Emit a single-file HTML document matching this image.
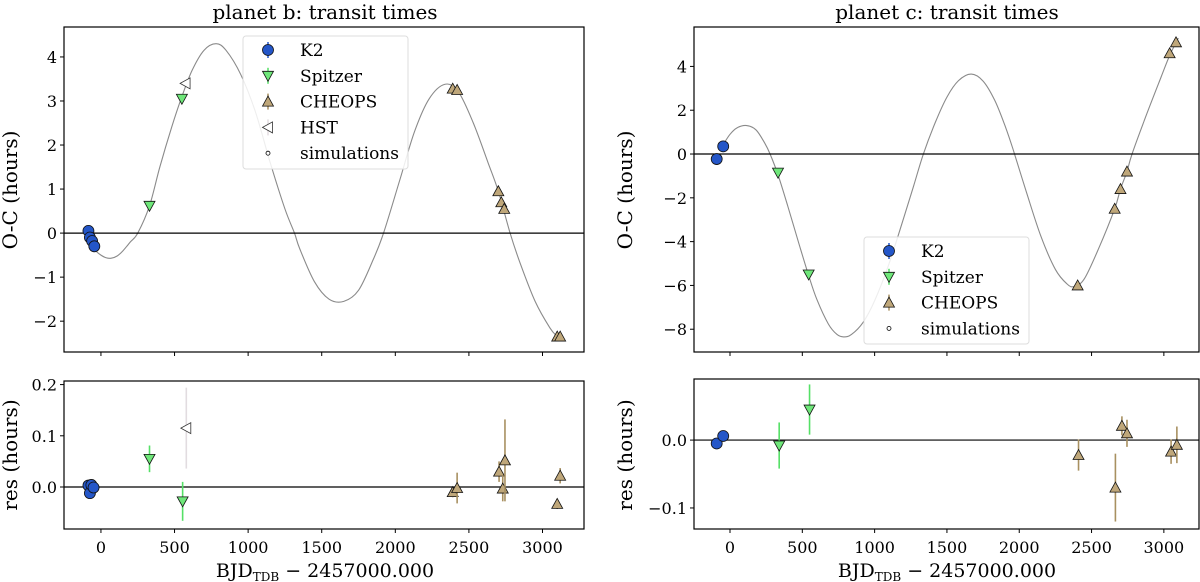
<!DOCTYPE html>
<html><head><meta charset="utf-8"><style>
html,body{margin:0;padding:0;background:#fff;}
svg{display:block;font-family:"DejaVu Serif","Liberation Serif",serif;}
</style></head><body>
<svg id="fig" width="1200" height="582" viewBox="0 0 1200 582" xmlns="http://www.w3.org/2000/svg"></svg>
<script>
// ---------- data: planet b ----------
const bModelX = [-60,-30,0,35,70,110,150,200,250,330,400,480,550,620,700,782,850,950,1050,1150,1250,1315,1350,1450,1550,1650,1750,1850,1920,2030,2130,2230,2338,2430,2530,2630,2700,2780,2850,2950,3050,3100];
const bModelY = [-0.3,-0.42,-0.5,-0.56,-0.57,-0.52,-0.4,-0.2,0.0,0.62,1.5,2.4,3.1,3.7,4.15,4.3,4.15,3.6,2.75,1.6,0.55,0.0,-0.35,-1.1,-1.5,-1.55,-1.3,-0.6,0.0,1.2,2.3,3.05,3.38,3.2,2.5,1.6,0.95,0.0,-0.7,-1.55,-2.15,-2.35];
const bK2X = [-85,-75,-60,-45];
const bK2Y = [0.05,-0.1,-0.18,-0.3];
const bSpX = [330,550];
const bSpY = [0.62,3.05];
const bHstX = [575];
const bHstY = [3.4];
const bChX = [2390,2420,2700,2720,2740,3100,3120];
const bChY = [3.28,3.25,0.95,0.7,0.55,-2.35,-2.35];
const bResK2X = [-85,-75,-65,-50];
const bResK2Y = [0.003,-0.012,0.004,-0.001];
const bResK2E = [0.004,0.004,0.004,0.004];
const bResSpX = [330,555];
const bResSpY = [0.055,-0.028];
const bResSpE = [0.026,0.038];
const bResHstX = [580];
const bResHstY = [0.115];
const bResHstE = [0.079];
const bResChX = [2390,2420,2705,2730,2745,3100,3120];
const bResChY = [-0.01,-0.002,0.03,-0.003,0.052,-0.033,0.022];
const bResChE = [0.01,0.03,0.02,0.025,0.08,0.01,0.015];
const bTopTicks = [-2,-1,0,1,2,3,4];
const bResTicks = [0.0,0.1,0.2];
// ---------- data: planet c ----------
const cModelX = [-50,0,50,115,180,240,277,332,400,480,544,600,680,740,787,840,920,1000,1100,1200,1270,1337,1420,1500,1580,1668,1750,1830,1900,1958,2050,2150,2250,2330,2380,2450,2550,2660,2700,2745,2780,2880,2980,3040,3100];
const cModelY = [0.4,0.9,1.2,1.3,1.1,0.5,0.0,-0.95,-2.39,-4.17,-5.55,-6.63,-7.76,-8.24,-8.35,-8.24,-7.69,-6.7,-5.0,-2.94,-1.45,0.0,1.45,2.6,3.35,3.65,3.33,2.46,1.32,0.2,-1.75,-3.76,-5.27,-5.93,-6.05,-5.7,-4.3,-2.5,-1.6,-0.8,0.0,1.8,3.5,4.5,5.3];
const cK2X = [-92,-47];
const cK2Y = [-0.23,0.35];
const cSpX = [332,544];
const cSpY = [-0.85,-5.5];
const cChX = [2404,2660,2700,2745,3040,3084];
const cChY = [-6.0,-2.5,-1.6,-0.8,4.6,5.1];
const cResK2X = [-92,-47];
const cResK2Y = [-0.005,0.006];
const cResK2E = [0.003,0.003];
const cResSpX = [340,550];
const cResSpY = [-0.008,0.045];
const cResSpE = [0.034,0.037];
const cResChX = [2410,2665,2710,2745,3050,3090];
const cResChY = [-0.022,-0.07,0.021,0.01,-0.017,-0.007];
const cResChE = [0.023,0.05,0.014,0.02,0.018,0.027];
const cTopTicks = [-8,-6,-4,-2,0,2,4];
const cResTicks = [-0.1,0.0];
const xTicks = [0,500,1000,1500,2000,2500,3000];

const NS = "http://www.w3.org/2000/svg";
const svg = document.getElementById('fig');
function mk(tag, attrs, parent){
  const e = document.createElementNS(NS, tag);
  for (const k in attrs) e.setAttribute(k, attrs[k]);
  (parent||svg).appendChild(e);
  return e;
}
function fmt(v, dec){ const s = v.toFixed(dec); return s.replace('-', '\u2212'); }

function makeAxes(name, L, R, T, B, x0, x1, y0, y1){
  const g = mk('g', {});
  
  
  const sx = v => L + (v - x0) / (x1 - x0) * (R - L);
  const sy = v => B - (v - y0) / (y1 - y0) * (B - T);
  return {g, sx, sy, L, R, T, B};
}
function frame(ax){
  const r = mk('rect', {x:ax.L, y:ax.T, width:ax.R-ax.L, height:ax.B-ax.T, fill:'none', stroke:'#000', 'stroke-width':1.2}, ax.g);
  
  
}
function yTicks(ax, ticks, dec, name){
  const g = mk('g', {}, ax.g);
  
  
  ticks.forEach(t => {
    const y = ax.sy(t);
    mk('line', {x1:ax.L-4, x2:ax.L, y1:y, y2:y, stroke:'#000', 'stroke-width':1}, g);
    const tx = mk('text', {x:ax.L-7, y:y+6, 'text-anchor':'end', 'font-size':16, fill:'#000'}, g);
    tx.textContent = fmt(t, dec);
  });
}
function xTickMarks(ax, labels, name){
  const g = mk('g', {}, ax.g);
  
  
  xTicks.forEach(t => {
    const x = ax.sx(t);
    mk('line', {x1:x, x2:x, y1:ax.B, y2:ax.B+4, stroke:'#000', 'stroke-width':1}, g);
    if (labels){
      const tx = mk('text', {x:x, y:ax.B+24, 'text-anchor':'middle', 'font-size':16, fill:'#000'}, g);
      tx.textContent = String(t);
    }
  });
}
function zeroLine(ax){
  const y = ax.sy(0);
  const l = mk('line', {x1:ax.L, x2:ax.R, y1:y, y2:y, stroke:'#000', 'stroke-width':1.2}, ax.g);
  
  
}
function model(ax, X, Y){
  const p = X.map((x,i)=>[ax.sx(x), ax.sy(Y[i])]);
  let d = 'M'+p[0][0]+','+p[0][1];
  for (let i=0;i<p.length-1;i++){
    const p0 = p[Math.max(0,i-1)], p1=p[i], p2=p[i+1], p3=p[Math.min(p.length-1,i+2)];
    const c1x = p1[0]+(p2[0]-p0[0])/6, c1y = p1[1]+(p2[1]-p0[1])/6;
    const c2x = p2[0]-(p3[0]-p1[0])/6, c2y = p2[1]-(p3[1]-p1[1])/6;
    d += ' C'+c1x+','+c1y+' '+c2x+','+c2y+' '+p2[0]+','+p2[1];
  }
  const path = mk('path', {d:d, fill:'none', stroke:'#8a8a8a', 'stroke-width':1.1}, ax.g);
  
  
}
function marker(g, kind, x, y){
  if (kind==='k2') return mk('circle', {cx:x, cy:y, r:5.5, fill:'#2456c8', stroke:'#111', 'stroke-width':0.8}, g);
  if (kind==='sp') return mk('polygon', {points:`${x-5.5},${y-4.5} ${x+5.5},${y-4.5} ${x},${y+5.5}`, fill:'#6fe77a', stroke:'#111', 'stroke-width':0.8}, g);
  if (kind==='ch') return mk('polygon', {points:`${x-5.5},${y+4.5} ${x+5.5},${y+4.5} ${x},${y-5.5}`, fill:'#bfa77a', stroke:'#111', 'stroke-width':0.8}, g);
  if (kind==='hst') return mk('polygon', {points:`${x+4.5},${y-5.5} ${x+4.5},${y+5.5} ${x-5.5},${y}`, fill:'#fff', stroke:'#333', 'stroke-width':0.8}, g);
}
const errCol = {k2:'#2456c8', sp:'#55e066', ch:'#a89060', hst:'#e2dce0'};
function points(ax, kind, X, Y, E, name){
  const g = mk('g', {}, ax.g);
  
  
  X.forEach((xv,i)=>{
    const x = ax.sx(xv), y = ax.sy(Y[i]);
    if (E){
      const l = mk('line', {x1:x, x2:x, y1:ax.sy(Y[i]-E[i]), y2:ax.sy(Y[i]+E[i]), stroke:errCol[kind], 'stroke-width':1.6}, g);
      
      
    }
    const m = marker(g, kind, x, y);
    
    
  });
}
function text(str, x, y, size, anchor, rot, name){
  const t = mk('text', {x:x, y:y, 'font-size':size, 'text-anchor':anchor||'start', fill:'#000'});
  if (rot) t.setAttribute('transform', `rotate(${rot} ${x} ${y})`);
  t.textContent = str;
  
  
  return t;
}
function legend(x, y, w, h, entries, name){
  const g = mk('g', {});
  
  
  mk('rect', {x:x, y:y, width:w, height:h, rx:3, fill:'rgba(255,255,255,0.85)', stroke:'#ddd', 'stroke-width':1}, g);
  entries.forEach((e,i)=>{
    const ey = y + 14 + i*25.8;
    const mx = x + 25;
    const eg = mk('g', {}, g);
    
    
    if (e[0]==='sim'){
      mk('circle', {cx:mx, cy:ey, r:2, fill:'#fff', stroke:'#000', 'stroke-width':0.8}, eg);
    } else {
      mk('line', {x1:mx, x2:mx, y1:ey-8, y2:ey+8, stroke:errCol[e[0]], 'stroke-width':1.5}, eg);
      marker(eg, e[0], mx, ey);
    }
    const t = mk('text', {x:x+57, y:ey+6, 'font-size':17, fill:'#000'}, eg);
    t.textContent = e[1];
  });
}

// ---------- panel b ----------
const bTop = makeAxes('planet-b-oc-axes', 64, 584, 27, 352, -251, 3282, -2.70, 4.68);
model(bTop, bModelX, bModelY);
zeroLine(bTop);
points(bTop, 'k2', bK2X, bK2Y, null, 'planet-b-k2-points');
points(bTop, 'sp', bSpX, bSpY, null, 'planet-b-spitzer-points');
points(bTop, 'hst', bHstX, bHstY, null, 'planet-b-hst-points');
points(bTop, 'ch', bChX, bChY, null, 'planet-b-cheops-points');
frame(bTop); yTicks(bTop, bTopTicks, 0, 'planet-b-oc-y-ticks'); xTickMarks(bTop, false, 'planet-b-oc-x-ticks');
legend(243, 36, 165, 133, [['k2','K2'],['sp','Spitzer'],['ch','CHEOPS'],['hst','HST'],['sim','simulations']], 'planet-b-legend');

const bRes = makeAxes('planet-b-res-axes', 64, 584, 381, 529, -251, 3282, -0.082, 0.207);
zeroLine(bRes);
points(bRes, 'k2', bResK2X, bResK2Y, bResK2E, 'planet-b-res-k2');
points(bRes, 'sp', bResSpX, bResSpY, bResSpE, 'planet-b-res-spitzer');
points(bRes, 'hst', bResHstX, bResHstY, bResHstE, 'planet-b-res-hst');
points(bRes, 'ch', bResChX, bResChY, bResChE, 'planet-b-res-cheops');
frame(bRes); yTicks(bRes, bResTicks, 1, 'planet-b-res-y-ticks'); xTickMarks(bRes, true, 'planet-b-res-x-ticks');

// ---------- panel c ----------
const cTop = makeAxes('planet-c-oc-axes', 694, 1199, 27, 352, -249, 3243, -9.04, 5.8);
model(cTop, cModelX, cModelY);
zeroLine(cTop);
points(cTop, 'k2', cK2X, cK2Y, null, 'planet-c-k2-points');
points(cTop, 'sp', cSpX, cSpY, null, 'planet-c-spitzer-points');
points(cTop, 'ch', cChX, cChY, null, 'planet-c-cheops-points');
frame(cTop); yTicks(cTop, cTopTicks, 0, 'planet-c-oc-y-ticks'); xTickMarks(cTop, false, 'planet-c-oc-x-ticks');
legend(864, 237, 165, 107, [['k2','K2'],['sp','Spitzer'],['ch','CHEOPS'],['sim','simulations']], 'planet-c-legend');

const cRes = makeAxes('planet-c-res-axes', 694, 1199, 379, 529, -249, 3243, -0.131, 0.090);
zeroLine(cRes);
points(cRes, 'k2', cResK2X, cResK2Y, cResK2E, 'planet-c-res-k2');
points(cRes, 'sp', cResSpX, cResSpY, cResSpE, 'planet-c-res-spitzer');
points(cRes, 'ch', cResChX, cResChY, cResChE, 'planet-c-res-cheops');
frame(cRes); yTicks(cRes, cResTicks, 1, 'planet-c-res-y-ticks'); xTickMarks(cRes, true, 'planet-c-res-x-ticks');

// ---------- titles & labels ----------
text('planet b: transit times', 325, 19, 20, 'middle', 0, 'planet-b-title');
text('planet c: transit times', 947, 19, 20, 'middle', 0, 'planet-c-title');
text('O-C (hours)', 17, 190, 20, 'middle', -90, 'planet-b-oc-y-label');
text('res (hours)', 17, 455, 20, 'middle', -90, 'planet-b-res-y-label');
text('O-C (hours)', 632, 190, 20, 'middle', -90, 'planet-c-oc-y-label');
text('res (hours)', 632, 455, 20, 'middle', -90, 'planet-c-res-y-label');
function xlabel(cx, name){
  const t = mk('text', {x:cx, y:577, 'font-size':19, 'text-anchor':'middle', fill:'#000'});
  
  
  const a = mk('tspan', {}, t); a.textContent = 'BJD';
  const b = mk('tspan', {'font-size':12, dy:4}, t); b.textContent = 'TDB';
  const c = mk('tspan', {dy:-4}, t); c.textContent = ' \u2212 2457000.000';
}
xlabel(325, 'planet-b-x-axis-title');
xlabel(947, 'planet-c-x-axis-title');
</script>
</body></html>
